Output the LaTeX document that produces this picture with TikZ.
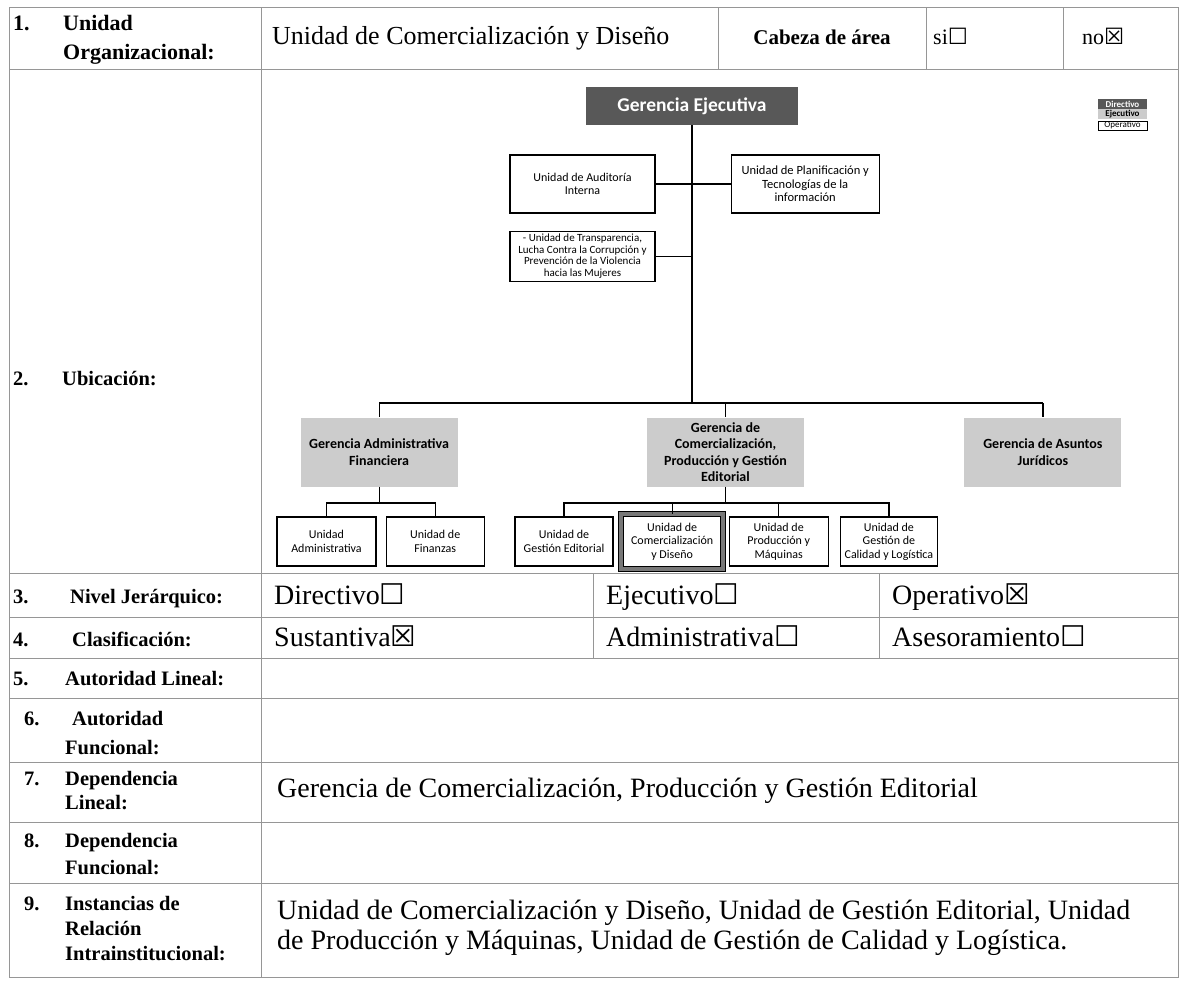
\documentclass[tikz,border=0pt]{standalone}
\usepackage{fontspec}
\setmainfont{Liberation Serif}
\newfontfamily\chartfont{Carlito}
\newfontfamily\boxfont{DejaVu Sans}
\usetikzlibrary{positioning}
\definecolor{dircol}{RGB}{88,88,88}
\definecolor{ejecol}{RGB}{204,204,204}
\definecolor{rulecol}{RGB}{150,150,150}
\definecolor{selcol}{RGB}{120,120,120}
\newcommand{\nobox}{{\boxfont\scalebox{1.02}{☐}}}
\newcommand{\yesbox}{{\boxfont\scalebox{1.02}{☒}}}
\tikzset{%
rule/.style={draw=rulecol,line width=1pt},
link/.style={draw,line width=1.2pt},
tag/.style={anchor=base west,inner sep=0,font={\bfseries\fontsize{20.5}{26}\selectfont}},
taglines/.style={anchor=north west,inner sep=0,align=left,font={\bfseries\fontsize{20.5}{#1}\selectfont}},
taglines/.default=26,
valtext/.style={anchor=base west,inner sep=0,font={\fontsize{28}{30}\selectfont}},
dirbox/.style={fill=dircol,text=white,minimum width=212pt,minimum height=38pt,font={\chartfont\bfseries\fontsize{19.5}{22}\selectfont}},
gerbox/.style={fill=ejecol,align=center,minimum width=157pt,minimum height=69pt,inner sep=1pt,font={\chartfont\bfseries\fontsize{14}{16.3}\selectfont}},
unitbox/.style={draw,line width=1.2pt,fill=white,align=center,inner sep=1pt,minimum height=49pt,font={\chartfont\fontsize{12}{13.5}\selectfont}},
selbox/.style={unitbox,line width=1pt,double=selcol,double distance=4pt,minimum width=102pt,minimum height=55pt},
leg/.style={minimum width=49pt,minimum height=10pt,inner sep=0,font={\chartfont\bfseries\fontsize{9}{10}\selectfont}}
}
\begin{document}
\begin{tikzpicture}[x=1pt,y=-1pt]
\path[use as bounding box,fill=white] (0,0) rectangle (1186,980);

% table
\draw[rule] (9,7) rectangle (1178,977);
\foreach \y in {69,573,617,658,698,762,822,883}
  \draw[rule] (9,\y) -- (1178,\y);
\draw[rule] (261,7) -- (261,977);
\foreach \x in {718,926,1063}
  \draw[rule] (\x,7) -- (\x,69);
\foreach \x in {593,879}
  \draw[rule] (\x,573) -- (\x,658);

\node[tag,font={\bfseries\fontsize{22}{29}\selectfont}] (n1) at (13,30) {1.};
\node[taglines,font={\bfseries\fontsize{22}{29}\selectfont}] (l1) at (63,15) {Unidad\\Organizacional:};
\node[tag] (n2) at (13,385) {2.};
\node[tag] (l2) at (62,385) {Ubicación:};
\node[tag] (n3) at (13,603) {3.};
\node[tag] (l3) at (70,603) {Nivel Jerárquico:};
\node[tag] (n4) at (13,646) {4.};
\node[tag] (l4) at (72,646) {Clasificación:};
\node[tag] (n5) at (13,685) {5.};
\node[tag] (l5) at (65,685) {Autoridad Lineal:};
\node[tag] (n6) at (24,725) {6.};
\node[taglines=29] (l6) at (65,711) {\hspace{7pt}Autoridad\\Funcional:};
\node[tag] (n7) at (24,785) {7.};
\node[taglines=24] (l7) at (65,771) {Dependencia\\Lineal:};
\node[tag] (n8) at (24,847) {8.};
\node[taglines=27] (l8) at (65,833) {Dependencia\\Funcional:};
\node[tag] (n9) at (24,910) {9.};
\node[taglines=25] (l9) at (65,896) {Instancias de\\Relación\\Intrainstitucional:};

\node[valtext,font={\fontsize{26}{30}\selectfont}] (vuni) at (272,44) {Unidad de Comercialización y Diseño};
\node[anchor=base,inner sep=0,font={\bfseries\fontsize{21}{26}\selectfont}] (vcab) at (822,44) {Cabeza de área};
\node[valtext,font={\fontsize{22}{26}\selectfont}] (vsi) at (933,44) {si\nobox};
\node[valtext,font={\fontsize{22}{26}\selectfont}] (vno) at (1082,44) {no\yesbox};
\node[valtext] (vdir) at (274,604) {Directivo\nobox};
\node[valtext] (veje) at (606,604) {Ejecutivo\nobox};
\node[valtext] (vope) at (892,604) {Operativo\yesbox};
\node[valtext] (vsus) at (274,646) {Sustantiva\yesbox};
\node[valtext] (vadm) at (606,646) {Administrativa\nobox};
\node[valtext] (vase) at (892,646) {Asesoramiento\nobox};
\node[valtext] (vdep) at (277,797) {Gerencia de Comercialización, Producción y Gestión Editorial};
\node[valtext,anchor=north west,align=left] (vrel) at (277,900) {Unidad de Comercialización y Diseño, Unidad de Gestión Editorial, Unidad\\de Producción y Máquinas, Unidad de Gestión de Calidad y Logística.};

% organigrama
\node[dirbox] (ge) at (692,106) {Gerencia Ejecutiva};
\node[unitbox,minimum width=145pt,minimum height=58pt,font={\chartfont\fontsize{12}{13.5}\selectfont}] (aud) at (582.5,184) {Unidad de Auditoría\\Interna};
\node[unitbox,minimum width=148pt,minimum height=58pt,font={\chartfont\fontsize{12.5}{13.5}\selectfont}] (pla) [right=75pt of aud] {Unidad de Planificación y\\Tecnologías de la\\información};
\node[unitbox,minimum width=145pt,minimum height=50pt,font={\chartfont\fontsize{11}{11.7}\selectfont}] (tra) [below=17pt of aud] {- Unidad de Transparencia,\\Lucha Contra la Corrupción y\\Prevención de la Violencia\\hacia las Mujeres};

\node[gerbox] (gcp) at (725.5,452) {Gerencia de\\Comercialización,\\Producción y Gestión\\Editorial};
\node[gerbox] (gaf) [left=189pt of gcp] {Gerencia Administrativa\\Financiera};
\node[gerbox] (gaj) [right=160pt of gcp] {Gerencia de Asuntos\\Jurídicos};

\node[unitbox,minimum width=99pt] (adm) at (326.5,541.5) {Unidad\\Administrativa};
\node[unitbox,minimum width=98pt] (fin) [right=9pt of adm] {Unidad de\\Finanzas};
\node[unitbox,minimum width=98pt] (ged) at (564,541.5) {Unidad de\\Gestión Editorial};
\node[selbox] (com) [right=7pt of ged] {Unidad de\\Comercialización\\y Diseño};
\node[unitbox,minimum width=99pt] (pro) [right=5pt of com] {Unidad de\\Producción y\\Máquinas};
\node[unitbox,minimum width=97pt] (cal) [right=11pt of pro] {Unidad de\\Gestión de\\Calidad y Logística};

\node[leg,fill=dircol,text=white] (ldir) at (1122.5,104) {Directivo};
\node[leg,fill=ejecol] (leje) [below=0pt of ldir] {Ejecutivo};
\node[leg,draw,line width=0.8pt,minimum height=9pt,font={\chartfont\fontsize{9}{10}\selectfont}] (lope) [below=1pt of leje] {Operativo};

\coordinate (bus) at (692,403);
\coordinate (subrow) at (0,503);
\draw[link] (ge) -- (bus);
\draw[link] (aud) -- (pla);
\draw[link] (tra) -- (tra -| ge);
\draw[link] (gaf.north |- bus) -- (gaj.north |- bus);
\draw[link] (gaf.north |- bus) -- (gaf);
\draw[link] (gcp.north |- bus) -- (gcp);
\draw[link] (gaj.north |- bus) -- (gaj);
\draw[link] (gaf) -- (gaf.south |- subrow);
\draw[link] (adm) -- (adm.north |- subrow) -- (fin.north |- subrow) -- (fin);
\draw[link] (gcp) -- (gcp.south |- subrow);
\draw[link] (ged) -- (ged.north |- subrow) -- (cal.north |- subrow) -- (cal);
\draw[link] (com) -- (com.north |- subrow);
\draw[link] (pro) -- (pro.north |- subrow);
\end{tikzpicture}
\end{document}
